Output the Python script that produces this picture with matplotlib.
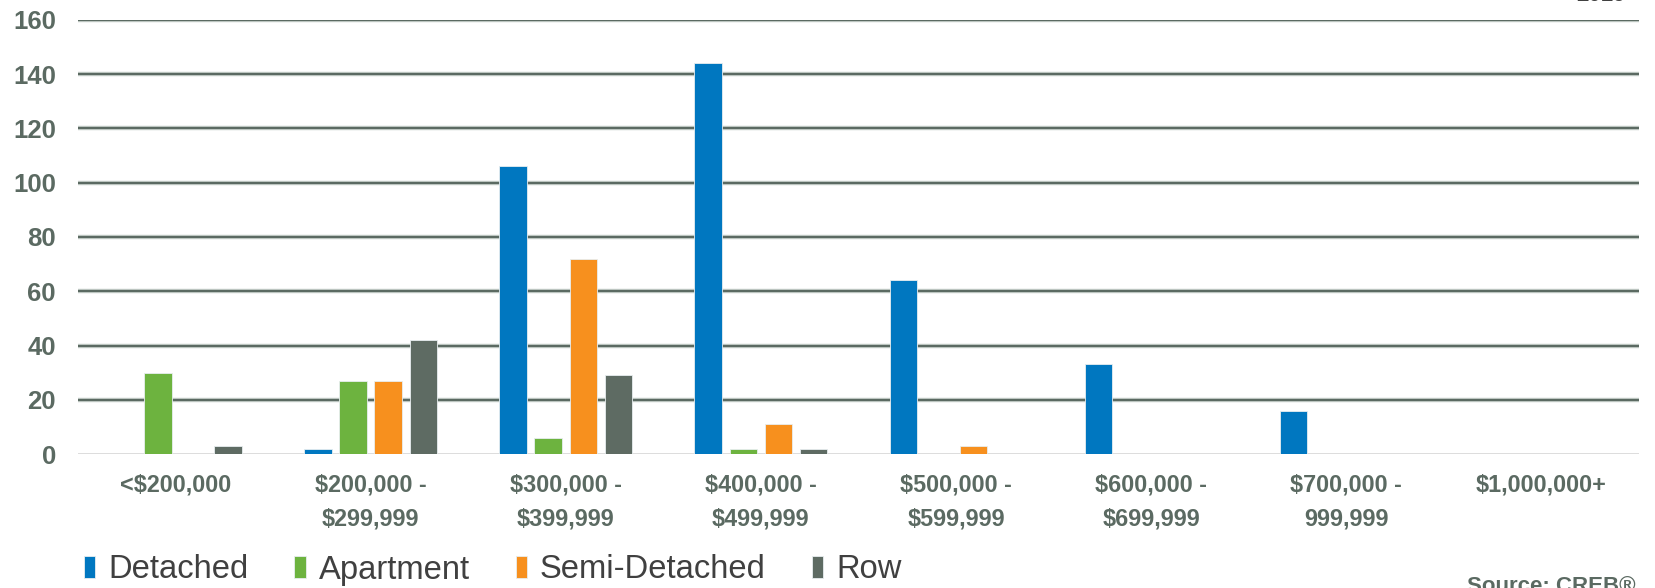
import matplotlib
matplotlib.use("Agg")
import matplotlib.pyplot as plt
import matplotlib.patheffects as pe
import numpy as np

plt.rcParams['font.family'] = ['Liberation Sans', 'DejaVu Sans']

# 价格区间和各房型成交数量
categories = ['<$200,000', '$200,000 -\n$299,999', '$300,000 -\n$399,999', '$400,000 -\n$499,999',
              '$500,000 -\n$599,999', '$600,000 -\n$699,999', '$700,000 -\n999,999', '$1,000,000+']
detached = [0, 2, 106, 144, 64, 33, 16, 0]
apartment = [30, 27, 6, 2, 0, 0, 0, 0]
semi_detached = [0, 27, 72, 11, 3, 0, 0, 0]
row = [3, 42, 29, 2, 0, 0, 0, 0]
series_names = ['Detached', 'Apartment', 'Semi-Detached', 'Row']
y_ticks = [0, 20, 40, 60, 80, 100, 120, 140, 160]

colors = ['#0077c0', '#6db33f', '#f7901e', '#5e6b63']
text_gray = '#5b6a62'

fig = plt.figure(figsize=(16.56, 5.88), dpi=100)
ax = fig.add_axes([78/1656, 1-454/588, (1639-78)/1656, (454-20)/588])

x = np.arange(len(categories)) + 0.5
slot = 0.18
width = 0.141
series = [detached, apartment, semi_detached, row]
for i, vals in enumerate(series):
    ax.bar(x + (i - 1.5)*slot, vals, width=width, color=colors[i],
           edgecolor='#e8eef0', linewidth=0.6, label=series_names[i], zorder=3)

ax.set_xlim(0, len(categories))
ax.set_ylim(0, 160)

# 网格线：深灰带浅色描边
for v in y_ticks[1:]:
    ax.axhline(v, color=text_gray, linewidth=1.6, zorder=1,
               path_effects=[pe.withStroke(linewidth=3.2, foreground='#c9d1cc')])
ax.axhline(0, color='#d9d9d9', linewidth=2, zorder=2)

for s in ax.spines.values():
    s.set_visible(False)

ax.set_yticks(y_ticks)
ax.set_yticklabels([str(v) for v in y_ticks], fontsize=18.5, fontweight='bold', color=text_gray)
ax.set_xticks(x)
ax.set_xticklabels(categories, fontsize=16.8, fontweight='bold', color=text_gray, linespacing=1.6)
ax.tick_params(axis='y', length=0, pad=16)
ax.tick_params(axis='x', length=0, pad=14)

fig.legend(loc='center left', bbox_to_anchor=(84/1656, 1-570/588), ncol=4, frameon=False,
           fontsize=23.6, handlelength=0.34, handleheight=0.64, handletextpad=0.4,
           columnspacing=1.4, borderpad=0, borderaxespad=0, labelcolor='#404040')

fig.text(1626/1656, 1-6/588, '2019', ha='right', va='bottom', fontsize=16,
         fontweight='bold', color='#404040')
fig.text(1636/1656, 1-576/588, 'Source: CREB®', ha='right', va='top', fontsize=16,
         fontweight='bold', color=text_gray)

fig.savefig('out.png', dpi=100)
